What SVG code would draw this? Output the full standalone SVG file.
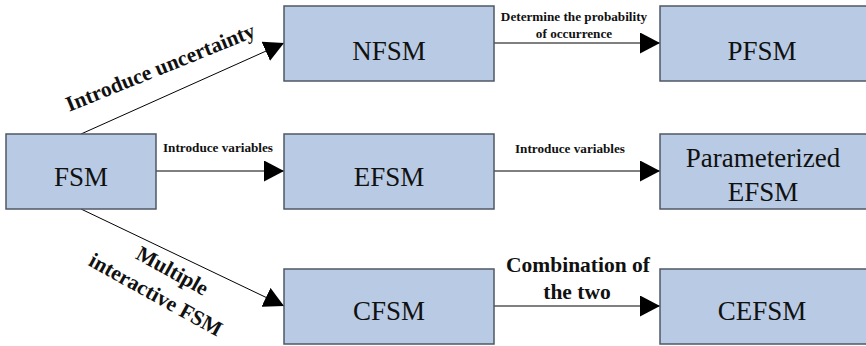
<svg xmlns="http://www.w3.org/2000/svg" width="866" height="346" viewBox="0 0 866 346">
  <defs>
    <marker id="arrow" viewBox="0 0 20 21" refX="20" refY="10.5" markerWidth="20" markerHeight="21" markerUnits="userSpaceOnUse" orient="auto">
      <path d="M0,0 L20,10.5 L0,21 Z" fill="#000"/>
    </marker>
    <style>
      .box { fill: #b9cbe4; stroke: #4f5866; stroke-width: 1.5; }
      .name { font-size: 27px; fill: #111; text-anchor: middle; }
      .edge { stroke: #000; stroke-width: 1; fill: none; marker-end: url(#arrow); }
      .lbl { font-weight: bold; fill: #111; text-anchor: middle; }
      .small { font-size: 13.2px; }
      .big { font-size: 21.5px; }
    </style>
  </defs>
  <rect width="866" height="346" fill="#fff"/>

  <g id="connectors" font-family="'Liberation Serif', Tinos, 'Times New Roman', serif">
    <line class="edge" x1="81" y1="134" x2="284" y2="43"/>
    <line class="edge" x1="494" y1="43" x2="660" y2="43"/>
    <line class="edge" x1="156" y1="171" x2="284" y2="171"/>
    <line class="edge" x1="494" y1="171" x2="660" y2="171"/>
    <line class="edge" x1="81" y1="209" x2="284" y2="306"/>
    <line class="edge" x1="494" y1="306" x2="660" y2="306"/>

    <text class="lbl big" transform="translate(163,74) rotate(-22)">Introduce uncertainty</text>
    <text class="lbl small" x="574" y="21">Determine the probability</text>
    <text class="lbl small" x="574" y="38">of occurrence</text>
    <text class="lbl small" x="218" y="152">Introduce variables</text>
    <text class="lbl small" x="570" y="153">Introduce variables</text>
    <text class="lbl big" transform="translate(169,277) rotate(29)"><tspan x="0" y="0">Multiple</tspan><tspan x="-3" y="29">interactive FSM</tspan></text>
    <text class="lbl big" x="578" y="272">Combination of</text>
    <text class="lbl big" x="577" y="299">the two</text>
  </g>

  <g id="nodes" font-family="'Liberation Serif', Tinos, 'Times New Roman', serif">
    <g id="fsm">
      <rect class="box" x="6" y="134" width="150" height="75"/>
      <text class="name" x="81" y="186">FSM</text>
    </g>
    <g id="nfsm">
      <rect class="box" x="284" y="6" width="210" height="75"/>
      <text class="name" x="389" y="60">NFSM</text>
    </g>
    <g id="pfsm">
      <rect class="box" x="660" y="6" width="210" height="75"/>
      <text class="name" x="762" y="60">PFSM</text>
    </g>
    <g id="efsm">
      <rect class="box" x="284" y="134" width="210" height="75"/>
      <text class="name" x="389" y="186">EFSM</text>
    </g>
    <g id="pefsm">
      <rect class="box" x="660" y="134" width="210" height="75"/>
      <text class="name" x="763" y="167">Parameterized</text>
      <text class="name" x="763" y="201">EFSM</text>
    </g>
    <g id="cfsm">
      <rect class="box" x="284" y="269" width="210" height="75"/>
      <text class="name" x="389" y="320">CFSM</text>
    </g>
    <g id="cefsm">
      <rect class="box" x="660" y="269" width="210" height="75"/>
      <text class="name" x="762" y="320">CEFSM</text>
    </g>
  </g>
</svg>
